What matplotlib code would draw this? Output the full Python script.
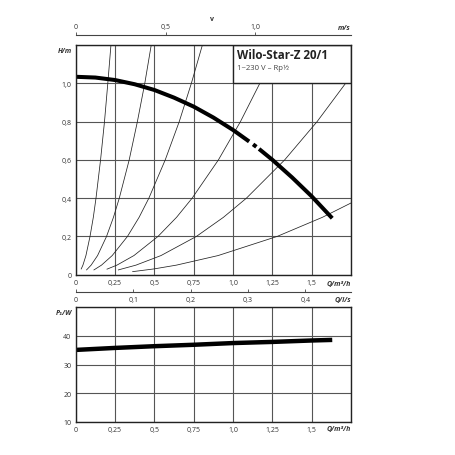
import numpy as np
import matplotlib.pyplot as plt
from matplotlib.patches import Rectangle

plt.rcParams['font.family'] = ['Open Sans', 'DejaVu Sans']

# pump head curve (Q in m3/h, H in m), split where the printed curve has gaps
head_q = [[0, 0.125, 0.25, 0.375, 0.5, 0.625, 0.75, 0.875, 1.0, 1.102],
          [1.127, 1.148],
          [1.165, 1.25, 1.375, 1.5, 1.63]]
head_h = [[1.034, 1.030, 1.017, 0.995, 0.965, 0.925, 0.878, 0.821, 0.756, 0.696],
          [0.681, 0.668],
          [0.657, 0.600, 0.508, 0.409, 0.295]]

# system curves, Q read where each curve crosses the H levels
sys_h = [[0.03, 0.05, 0.1, 0.2, 0.3, 0.4, 0.6, 0.8, 1.0, 1.2],
         [0.025, 0.05, 0.1, 0.2, 0.3, 0.4, 0.6, 0.8, 1.0, 1.2],
         [0.025, 0.05, 0.1, 0.2, 0.3, 0.4, 0.6, 0.8, 1.0, 1.2],
         [0.029, 0.05, 0.1, 0.2, 0.3, 0.4, 0.6, 0.8, 1.0, 1.2],
         [0.025, 0.05, 0.1, 0.2, 0.3, 0.4, 0.6, 0.8, 1.0, 1.2],
         [0.016, 0.03, 0.05, 0.1, 0.2, 0.3, 0.4]]
sys_q = [[0.035, 0.046, 0.065, 0.091, 0.112, 0.129, 0.158, 0.183, 0.204, 0.224],
         [0.069, 0.098, 0.139, 0.196, 0.240, 0.277, 0.340, 0.392, 0.439, 0.480],
         [0.116, 0.164, 0.232, 0.329, 0.403, 0.465, 0.569, 0.658, 0.735, 0.805],
         [0.199, 0.262, 0.370, 0.523, 0.641, 0.740, 0.907, 1.047, 1.170, 1.282],
         [0.271, 0.383, 0.542, 0.767, 0.939, 1.085, 1.328, 1.534, 1.715, 1.879],
         [0.362, 0.496, 0.640, 0.905, 1.280, 1.568, 1.811]]

# power input
pow_q = [0, 0.25, 0.5, 0.75, 1.0, 1.25, 1.5, 1.63]
pow_w = [35.1, 35.8, 36.4, 36.9, 37.5, 37.9, 38.4, 38.6]

q_ticks = [0, 0.25, 0.5, 0.75, 1.0, 1.25, 1.5]
q_labels = ['0', '0,25', '0,5', '0,75', '1,0', '1,25', '1,5']
h_ticks = [0, 0.2, 0.4, 0.6, 0.8, 1.0]
h_labels = ['0', '0,2', '0,4', '0,6', '0,8', '1,0']
p_ticks = [10, 20, 30, 40]
v_ticks = [0, 0.5, 1.0]
v_labels = ['0', '0,5', '1,0']
ls_ticks = [0, 0.1, 0.2, 0.3, 0.4]
ls_labels = ['0', '0,1', '0,2', '0,3', '0,4']

QMAX = 1.75
V_PER_Q = 0.8755
Q_PER_LS = 3.65

tc = '#333333'
gc = '#555555'
fs = 5

fig = plt.figure(figsize=(4.56, 4.56), dpi=100)
fig.patch.set_facecolor('white')


def style(ax):
    ax.grid(True, color=gc, lw=0.8)
    ax.set_axisbelow(True)
    ax.tick_params(length=0, labelsize=fs, labelcolor=tc, pad=3)
    for s in ax.spines.values():
        s.set_color('#222222')
        s.set_linewidth(1.0)
        s.set_zorder(6)


def unit(ax, x, y, txt, **kw):
    ax.text(x, y, txt, fontsize=fs, fontstyle='italic', fontweight='bold',
            color=tc, **kw)


# head chart
ax = fig.add_axes([0.166, 0.3954, 0.604, 0.5037])
ax.set_xlim(0, QMAX)
ax.set_ylim(0, 1.2)
ax.set_xticks(q_ticks + [QMAX])
ax.set_xticklabels(q_labels + [''])
ax.set_yticks(h_ticks + [1.2])
ax.set_yticklabels(h_labels + [''])
style(ax)

for q, h in zip(sys_q, sys_h):
    ax.plot(q, h, color='#222222', lw=0.55, zorder=2)
for q, h in zip(head_q, head_h):
    ax.plot(q, h, color='black', lw=2.9, zorder=4, solid_capstyle='butt')

ax.add_patch(Rectangle((1.0, 1.0), 0.75, 0.2, facecolor='white',
                       edgecolor='#222222', lw=1.0, zorder=5))
ax.text(1.025, 1.153, 'Wilo-Star-Z 20/1', fontsize=8.4, fontweight='bold',
        color='#222222', va='center', zorder=7)
ax.text(1.025, 1.083, '1~230 V – Rp½', fontsize=5.6, color='#444444',
        va='center', zorder=7)
unit(ax, 1.75, -0.03, 'Q/m³/h', ha='right', va='top')
unit(ax, -0.022, 1.19, 'H/m', ha='right', va='top')

# velocity scale on top
axv = fig.add_axes([0.166, 0.9217, 0.604, 0.0001])
axv.set_xlim(0, QMAX * V_PER_Q)
axv.set_yticks([])
for k in ['left', 'right', 'bottom']:
    axv.spines[k].set_visible(False)
axv.spines['top'].set_color('#444444')
axv.spines['top'].set_linewidth(0.8)
axv.xaxis.tick_top()
axv.set_xticks(v_ticks)
axv.set_xticklabels(v_labels)
axv.tick_params(axis='x', direction='out', length=2, width=0.6, color='#444444',
                labelsize=fs, labelcolor=tc, pad=1.5)
axv.annotate('m/s', xy=(1, 0), xycoords='axes fraction', xytext=(0, 3),
             textcoords='offset points', fontsize=fs, fontstyle='italic',
             fontweight='bold', color=tc, ha='right', va='bottom')
fig.text(0.464, 0.958, 'v', fontsize=fs, fontweight='bold', color=tc,
         ha='center', va='center')

# flow scale in l/s
axl = fig.add_axes([0.166, 0.358, 0.604, 0.0001])
axl.set_xlim(0, QMAX / Q_PER_LS)
axl.set_yticks([])
for k in ['left', 'right', 'top']:
    axl.spines[k].set_visible(False)
axl.spines['bottom'].set_color('#444444')
axl.spines['bottom'].set_linewidth(0.8)
axl.set_xticks(ls_ticks)
axl.set_xticklabels(ls_labels)
axl.tick_params(axis='x', direction='in', length=2, width=0.6, color='#444444',
                labelsize=fs, labelcolor=tc, pad=3)
axl.annotate('Q/l/s', xy=(1, 0), xycoords='axes fraction', xytext=(0, -3),
             textcoords='offset points', fontsize=fs, fontstyle='italic',
             fontweight='bold', color=tc, ha='right', va='top')

# power chart
axp = fig.add_axes([0.166, 0.0730, 0.604, 0.2509])
axp.set_xlim(0, QMAX)
axp.set_ylim(10, 50)
axp.set_xticks(q_ticks + [QMAX])
axp.set_xticklabels(q_labels + [''])
axp.set_yticks(p_ticks + [50])
axp.set_yticklabels([str(t) for t in p_ticks] + [''])
style(axp)
axp.plot(pow_q, pow_w, color='black', lw=3.2, zorder=4, solid_capstyle='butt')
unit(axp, 1.75, 9.0, 'Q/m³/h', ha='right', va='top')
unit(axp, -0.022, 49.5, 'P₁/W', ha='right', va='top')

fig.savefig('out.png', dpi=100, facecolor='white')
